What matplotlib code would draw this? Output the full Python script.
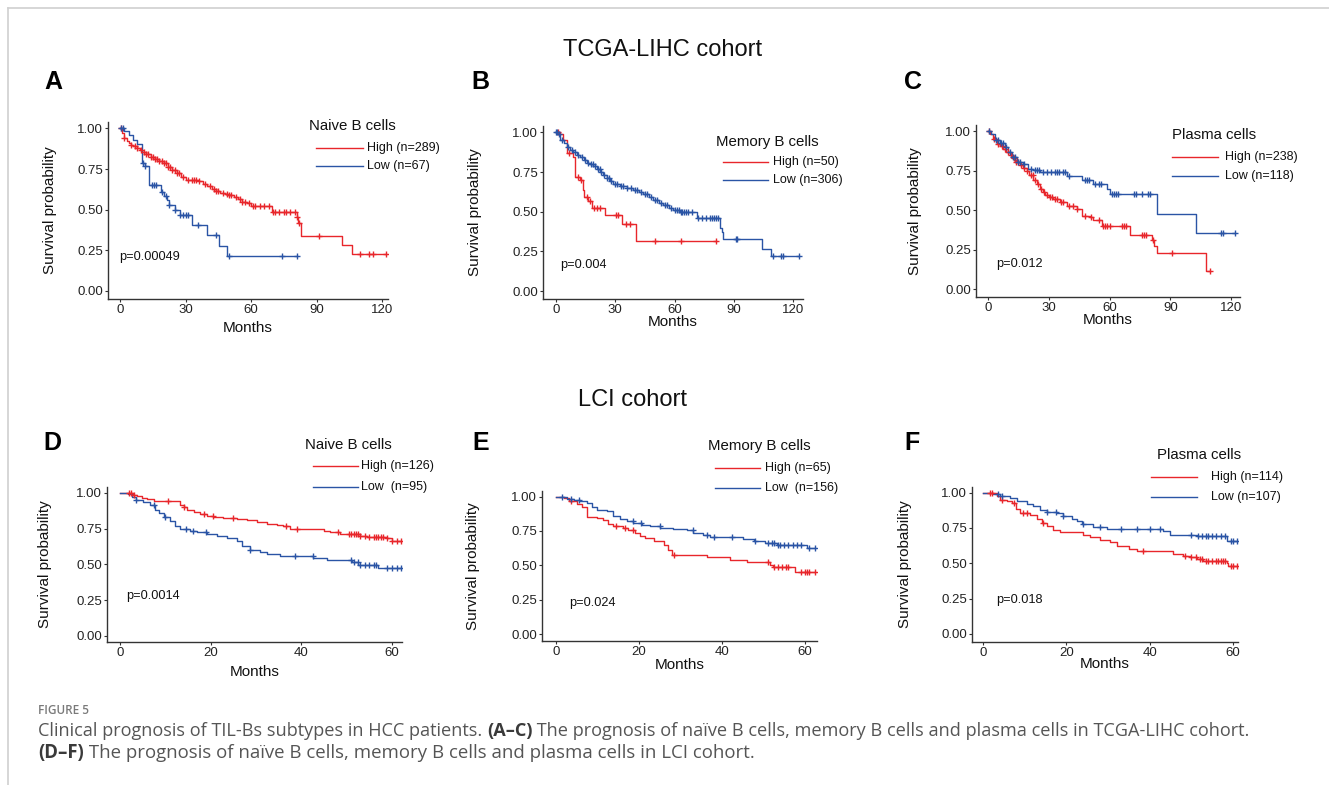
import numpy as np
import matplotlib
matplotlib.use("Agg")
import matplotlib.pyplot as plt
from matplotlib.lines import Line2D

W, H = 1329, 785

# ---- data: Kaplan-Meier steps (drop times in months, survival after drop) and censor times ----
A_HIGH_T = [1, 2, 3, 4, 5, 6, 8, 9, 10, 12, 14, 16, 18, 20, 22, 24, 26, 28, 30, 33, 36, 38, 40, 42,
            44, 46, 48, 50, 52, 54, 56, 58, 60, 69.5, 81, 81.7, 82.7, 101.5, 106]
A_HIGH_S = [0.97, 0.94, 0.92, 0.91, 0.90, 0.89, 0.88, 0.865, 0.855, 0.84, 0.825, 0.815, 0.80, 0.785,
            0.765, 0.745, 0.725, 0.70, 0.685, 0.68, 0.675, 0.66, 0.645, 0.63, 0.615, 0.60, 0.595, 0.59,
            0.58, 0.565, 0.55, 0.54, 0.52, 0.487, 0.455, 0.415, 0.34, 0.28, 0.23]
A_HIGH_C = [0.5, 2, 5, 7, 8, 9.5, 11, 12, 13, 14, 15, 16, 17, 18, 19, 20, 21, 22, 23, 24, 25, 26, 27,
            29, 31, 33, 34, 35, 36, 39, 41, 43, 44, 45, 47, 49, 50, 51, 53, 55, 56, 57, 59, 61, 62, 64,
            66, 68, 70, 71, 73, 75, 76, 78, 80, 81, 82, 91, 110, 114, 116, 122]

A_LOW_T = [2, 4, 6, 8, 10, 11.5, 13.5, 18.8, 20, 21.4, 22.5, 25, 27.5, 33, 40, 45.5, 49]
A_LOW_S = [0.985, 0.96, 0.93, 0.905, 0.79, 0.77, 0.65, 0.61, 0.585, 0.56, 0.53, 0.50, 0.466, 0.405,
           0.344, 0.276, 0.215]
A_LOW_C = [0.5, 1.2, 10.7, 11.5, 14.5, 15.5, 16.5, 19, 21, 22.5, 25, 27.5, 29, 30, 31, 35.5, 44, 50,
           74, 81]

B_HIGH_T = [2, 3.7, 5.4, 8.8, 9.6, 12.2, 13.5, 14.2, 16.4, 18, 25, 33.5, 40.5]
B_HIGH_S = [0.99, 0.95, 0.87, 0.845, 0.72, 0.70, 0.635, 0.59, 0.57, 0.526, 0.478, 0.42, 0.317]
B_HIGH_C = [1, 6.5, 11, 12.5, 15.5, 17, 19, 20.5, 22.5, 30.5, 31.5, 35.5, 37.5, 50, 63, 81]

B_LOW_T = [1, 2, 4, 5.4, 7, 8.8, 10.5, 12.2, 14, 15.5, 17, 18.9, 20.5, 22.3, 24, 25.7, 27.5, 29, 32.4,
           35.8, 39.2, 42, 44.2, 47, 49.3, 52, 54.3, 57, 59.4, 62.8, 71.2, 82.8, 83.9, 84.7, 104, 108.7]
B_LOW_S = [0.99, 0.95, 0.93, 0.908, 0.89, 0.876, 0.86, 0.845, 0.825, 0.81, 0.80, 0.79, 0.77, 0.75,
           0.73, 0.715, 0.695, 0.677, 0.66, 0.652, 0.635, 0.625, 0.614, 0.595, 0.572, 0.555, 0.54,
           0.525, 0.51, 0.50, 0.463, 0.40, 0.373, 0.325, 0.268, 0.222]
B_LOW_C = [0, 0.5, 1.5, 3, 6, 8, 9.5, 11, 13, 14.5, 16, 17.5, 18.5, 19.5, 21, 22, 23, 24.5, 26, 27, 28,
           30, 31, 33, 34, 36, 38, 40, 41, 43, 45, 46, 48, 50, 51, 53, 55, 56, 58, 60, 61, 62, 63, 64,
           65, 66, 67, 69, 72, 74, 76, 78, 79, 80, 81, 82, 91, 91.5, 110, 114, 115, 123]

C_HIGH_T = [1, 2.5, 4.3, 6, 7.6, 9, 10.9, 12, 13.3, 15.8, 17.5, 19.1, 20.5, 22.4, 24, 25.7, 27, 28.1,
            30, 32.3, 35.6, 38.8, 43.8, 46.3, 50.4, 52, 56.1, 70.3, 81, 82, 83.3, 107.5]
C_HIGH_S = [0.985, 0.95, 0.92, 0.905, 0.89, 0.87, 0.85, 0.83, 0.806, 0.785, 0.77, 0.75, 0.72, 0.69,
            0.665, 0.637, 0.615, 0.595, 0.585, 0.574, 0.553, 0.525, 0.51, 0.462, 0.454, 0.437, 0.40,
            0.346, 0.31, 0.272, 0.226, 0.116]
C_HIGH_C = [0.5, 3, 5, 7, 8.5, 10, 11.5, 13, 14, 15, 16.5, 18, 19.5, 21, 22, 23, 24.5, 26, 27.5, 29,
            30.5, 31.5, 33, 34, 36, 37, 40, 42, 44, 48, 51, 55, 57, 58, 59, 60, 66, 67, 68, 76, 77, 78,
            81.5, 91, 109.5]

C_LOW_T = [1.5, 3.5, 5.9, 8.4, 10, 11.7, 14.2, 17.4, 19.9, 22.4, 25.7, 39, 46.3, 52, 58.6, 60.2,
           83.3, 102.7]
C_LOW_S = [0.985, 0.947, 0.926, 0.9, 0.87, 0.837, 0.806, 0.79, 0.764, 0.757, 0.743, 0.715, 0.694,
           0.669, 0.637, 0.605, 0.479, 0.357]
C_LOW_C = [0.5, 4, 5, 6.5, 7.5, 9, 11, 12.5, 13.5, 15, 16, 18, 21, 23, 24, 25, 27, 29, 31, 33, 34,
           35, 37, 38, 40, 48, 49, 50, 53, 55, 56, 61, 62, 63, 64, 72, 73, 76, 79, 80, 115, 116, 122]

D_HIGH_T = [2.9, 3.7, 4.8, 5.9, 7.4, 9.6, 13.3, 14, 14.7, 16.2, 17.6, 19.1, 20.6, 22.8, 25.7, 27.9,
            30.1, 32.4, 34.6, 36, 37.5, 45, 46.3, 48.5, 52.9, 54.4, 58.8, 59.9]
D_HIGH_S = [0.986, 0.974, 0.963, 0.956, 0.944, 0.94, 0.916, 0.897, 0.88, 0.865, 0.853, 0.839, 0.83,
            0.823, 0.816, 0.807, 0.793, 0.78, 0.776, 0.765, 0.746, 0.734, 0.723, 0.711, 0.70, 0.69,
            0.683, 0.66]
D_HIGH_C = [2, 2.5, 3, 10.5, 14, 18.5, 20.5, 25, 36.5, 39, 48, 50.5, 51, 51.5, 52, 52.5, 53, 54, 55,
            56, 56.5, 57, 57.5, 58, 59, 60, 61, 62]

D_LOW_T = [1.8, 2.6, 3.5, 5.1, 6.6, 7.7, 8.5, 9.6, 11, 12.1, 13.2, 15.4, 16.9, 19.1, 21.3, 23.5, 25.7,
           26.8, 28.7, 30.9, 32.4, 35.3, 38.2, 42.6, 45.6, 51.1, 52.6, 57]
D_LOW_S = [0.99, 0.967, 0.951, 0.932, 0.916, 0.88, 0.858, 0.83, 0.80, 0.765, 0.748, 0.734, 0.723,
           0.713, 0.70, 0.683, 0.66, 0.625, 0.597, 0.583, 0.571, 0.56, 0.555, 0.543, 0.531, 0.513,
           0.497, 0.473]
D_LOW_C = [3.5, 7.5, 10, 14.5, 16, 19, 28.7, 38.5, 42.5, 51, 51.5, 52.5, 53, 54, 55, 56, 56.5, 59, 60,
           61, 62]

E_HIGH_T = [1.8, 3, 5, 6.2, 7.4, 9.8, 11.4, 12.6, 13.8, 16.2, 17.4, 19, 20.2, 21.4, 23.5, 26, 27,
            27.9, 36.3, 42, 46, 51.6, 52.4, 57.6]
E_HIGH_S = [0.99, 0.966, 0.949, 0.925, 0.85, 0.845, 0.827, 0.803, 0.783, 0.77, 0.754, 0.735, 0.715,
            0.698, 0.68, 0.65, 0.613, 0.577, 0.56, 0.54, 0.523, 0.504, 0.491, 0.455]
E_HIGH_C = [3.5, 14.5, 16.5, 18.5, 28.5, 51, 52.5, 53.5, 54.5, 55.5, 56, 59, 60, 60.5, 61, 62.5]

E_LOW_T = [2.6, 4.2, 5.8, 7.4, 8.6, 9.8, 12.2, 13.8, 15.4, 17, 18.6, 20.6, 22.6, 25.1, 28.3, 31.5,
           33.1, 35.5, 37.1, 45.1, 47.6, 50.4, 53.2, 60.4]
E_LOW_S = [0.985, 0.971, 0.966, 0.954, 0.925, 0.905, 0.893, 0.861, 0.837, 0.82, 0.808, 0.796, 0.783,
           0.771, 0.764, 0.754, 0.735, 0.72, 0.706, 0.691, 0.674, 0.662, 0.65, 0.625]
E_LOW_C = [1.5, 3.5, 5.5, 18.5, 20.5, 25, 33, 36.5, 38, 42.5, 48, 51, 52, 52.5, 53.5, 54, 55, 56, 57,
           58, 59, 61, 62.5]

F_HIGH_T = [3.3, 4.1, 5.7, 6.9, 7.9, 8.9, 11.3, 12.9, 14.1, 15.3, 16.9, 18.5, 24.1, 25.7, 28.1, 30.5,
            32.1, 35, 36.9, 45.7, 48.1, 49.7, 51.3, 52.9, 58.5, 58.9]
F_HIGH_S = [0.979, 0.95, 0.943, 0.927, 0.884, 0.856, 0.844, 0.813, 0.785, 0.761, 0.738, 0.719, 0.702,
            0.686, 0.667, 0.648, 0.619, 0.60, 0.584, 0.567, 0.553, 0.544, 0.53, 0.518, 0.501, 0.478]
F_HIGH_C = [1.7, 2.2, 4.5, 7.5, 9.5, 10.5, 14.5, 38.5, 48.5, 50, 51, 52, 52.5, 53.5, 54, 55, 56, 56.5,
            57, 57.5, 58, 59.5, 60, 60.9]

F_LOW_T = [2.5, 4.1, 6.5, 8.1, 10.5, 12.1, 13.7, 15.3, 17.7, 19.3, 21.3, 22.5, 23.7, 26.5, 29.7, 43.3,
           44.9, 51.3, 58.5]
F_LOW_S = [0.99, 0.979, 0.962, 0.943, 0.922, 0.903, 0.879, 0.86, 0.856, 0.837, 0.813, 0.797, 0.778,
           0.757, 0.742, 0.726, 0.702, 0.69, 0.66]
F_LOW_C = [3.5, 4.5, 15.3, 17.5, 19.3, 24, 28, 33, 37, 40, 42.5, 50, 51.5, 52.5, 53.5, 54, 55, 56,
           57, 58, 59.5, 60, 60.9]

GROUP_TITLES = ["Naive B cells", "Memory B cells", "Plasma cells"]
A_LABELS = ["High (n=289)", "Low (n=67)"]
B_LABELS = ["High (n=50)", "Low (n=306)"]
C_LABELS = ["High (n=238)", "Low (n=118)"]
D_LABELS = ["High (n=126)", "Low  (n=95)"]
E_LABELS = ["High (n=65)", "Low  (n=156)"]
F_LABELS = ["High (n=114)", "Low (n=107)"]
P_VALUES = ["p=0.00049", "p=0.004", "p=0.012", "p=0.0014", "p=0.024", "p=0.018"]
TCGA_XTICKS = [0, 30, 60, 90, 120]
LCI_XTICKS = [0, 20, 40, 60]
Y_TICKS = [0, 0.25, 0.5, 0.75, 1.0]

RED = "#E8262B"
BLUE = "#2A54A5"
FONT = "Liberation Sans"
plt.rcParams["font.family"] = [FONT, "DejaVu Sans"]


def fx(x):
    return x / W


def fy(y):
    return 1 - y / H


def km(ax, times, surv, cens, color):
    end = max(cens[-1], times[-1])
    xs = [0] + list(times) + [end]
    ys = [1.0] + list(surv) + [surv[-1]]
    ax.step(xs, ys, where="post", color=color, lw=1.0, zorder=3)
    t = np.asarray(times)
    s = np.concatenate([[1.0], surv])
    cy = s[np.searchsorted(t, np.asarray(cens), side="right")]
    ax.plot(cens, cy, ls="none", marker="+", ms=5, mew=1.0, color=color, zorder=4)


def panel(fig, rect, xlim, ylim, xticks, curves, xlab_y, ylab_x):
    x0, y0, x1, y1 = rect
    ax = fig.add_axes([fx(x0), fy(y1), (x1 - x0) / W, (y1 - y0) / H])
    for times, surv, cens, color in curves:
        km(ax, times, surv, cens, color)
    ax.set_xlim(*xlim)
    ax.set_ylim(*ylim)
    ax.set_xticks(xticks)
    ax.set_yticks(Y_TICKS)
    ax.set_yticklabels([f"{v:.2f}" for v in Y_TICKS])
    for side in ["top", "right"]:
        ax.spines[side].set_visible(False)
    for side in ["left", "bottom"]:
        ax.spines[side].set_color("#333333")
        ax.spines[side].set_linewidth(1.0)
    ax.tick_params(length=2.4, width=0.8, color="#333333", labelsize=9.5,
                   labelcolor="#222222", pad=1)
    ax.set_facecolor("none")
    hgt = y1 - y0
    wid = x1 - x0
    ax.set_xlabel("Months", fontsize=11, color="#111111", va="center", ha="center")
    ax.xaxis.set_label_coords(0.5, (y1 - xlab_y) / hgt)
    ax.set_ylabel("Survival probability", fontsize=11, color="#111111", va="center", ha="center")
    ax.yaxis.set_label_coords((ylab_x - x0) / wid, 0.5)
    return ax


def legend(fig, title, labels, title_xy, lx0, lx1, ys, tx):
    fig.text(fx(title_xy[0]), fy(title_xy[1]), title, fontsize=10.8, color="#111111",
             ha="left", va="center")
    for lab, yy, col in zip(labels, ys, [RED, BLUE]):
        fig.add_artist(Line2D([fx(lx0), fx(lx1)], [fy(yy), fy(yy)], color=col, lw=1.0))
        fig.text(fx(tx), fy(yy), lab, fontsize=9, color="#111111", ha="left", va="center")


def rich_line(fig, x_px, y_px, pieces, size, color):
    r = fig.canvas.get_renderer()
    x = x_px
    texts = []
    for s, bold in pieces:
        t = fig.text(fx(x), fy(y_px), s, fontsize=size, family="Open Sans",
                     fontweight="bold" if bold else "normal",
                     color="#3a3a3a" if bold else color, ha="left", va="center")
        texts.append(t)
        x = t.get_window_extent(r).x1
    return texts, x - x_px


def fitted_line(fig, x_px, y_px, pieces, target, color):
    texts, w = rich_line(fig, x_px, y_px, pieces, 11, color)
    for t in texts:
        t.remove()
    rich_line(fig, x_px, y_px, pieces, 11 * target / w, color)


fig = plt.figure(figsize=(W / 100, H / 100), dpi=100)

# frame
fig.add_artist(Line2D([fx(8), 1], [fy(8), fy(8)], color="#d0d0d0", lw=1.2))
fig.add_artist(Line2D([fx(8), fx(8)], [fy(8), 0], color="#d0d0d0", lw=1.2))

fig.text(fx(663), fy(50), "TCGA-LIHC cohort", fontsize=17, ha="center", va="center", color="#111111")
fig.text(fx(632), fy(400), "LCI cohort", fontsize=17, ha="center", va="center", color="#111111")

for letter, (lx, ly) in zip("ABCDEF", [(53, 82), (480, 82), (913, 82), (52, 443), (481, 443), (912, 443)]):
    fig.text(fx(lx), fy(ly), letter, fontsize=18, fontweight="bold", ha="center", va="center",
             color="black")

panel(fig, (108, 122, 388, 299), (-5.5, 122.7), (-0.05, 1.04), TCGA_XTICKS,
      [(A_HIGH_T, A_HIGH_S, A_HIGH_C, RED), (A_LOW_T, A_LOW_S, A_LOW_C, BLUE)], 328, 50)
panel(fig, (543, 126, 803, 299), (-6.6, 125.0), (-0.05, 1.04), TCGA_XTICKS,
      [(B_HIGH_T, B_HIGH_S, B_HIGH_C, RED), (B_LOW_T, B_LOW_S, B_LOW_C, BLUE)], 322, 475)
panel(fig, (976, 125, 1240, 297), (-5.9, 124.4), (-0.05, 1.04), TCGA_XTICKS,
      [(C_HIGH_T, C_HIGH_S, C_HIGH_C, RED), (C_LOW_T, C_LOW_S, C_LOW_C, BLUE)], 320, 915)
panel(fig, (107, 487, 402, 642), (-2.9, 62.2), (-0.042, 1.04), LCI_XTICKS,
      [(D_HIGH_T, D_HIGH_S, D_HIGH_C, RED), (D_LOW_T, D_LOW_S, D_LOW_C, BLUE)], 672, 45)
panel(fig, (542, 491, 817, 641), (-3.4, 62.9), (-0.05, 1.04), LCI_XTICKS,
      [(E_HIGH_T, E_HIGH_S, E_HIGH_C, RED), (E_LOW_T, E_LOW_S, E_LOW_C, BLUE)], 665, 473)
panel(fig, (972, 487, 1238, 642), (-2.64, 61.2), (-0.057, 1.04), LCI_XTICKS,
      [(F_HIGH_T, F_HIGH_S, F_HIGH_C, RED), (F_LOW_T, F_LOW_S, F_LOW_C, BLUE)], 664, 905)

legend(fig, GROUP_TITLES[0], A_LABELS, (309, 126), 316, 363, (148, 166), 367)
legend(fig, GROUP_TITLES[1], B_LABELS, (716, 142), 723, 768, (162, 180), 773)
legend(fig, GROUP_TITLES[2], C_LABELS, (1172, 135), 1172, 1218, (157, 176), 1225)
legend(fig, GROUP_TITLES[0], D_LABELS, (305, 445), 313, 358, (466, 487), 361)
legend(fig, GROUP_TITLES[1], E_LABELS, (708, 446), 715, 760, (468, 488), 765)
legend(fig, GROUP_TITLES[2], F_LABELS, (1157, 455), 1151, 1197, (477, 497), 1211)

for p, (px, py) in zip(P_VALUES, [(119, 257), (560, 265), (996, 264), (126, 596), (569, 603), (996, 600)]):
    fig.text(fx(px), fy(py), p, fontsize=9.2, color="#111111", ha="left", va="center")

# caption
fig.text(fx(38), fy(711), "FIGURE 5", fontsize=8.5, family="Open Sans", fontweight="semibold",
         color="#7a7a7a", ha="left", va="center")
fitted_line(fig, 38, 731, [
    ("Clinical prognosis of TIL-Bs subtypes in HCC patients. ", False),
    ("(A\u2013C)", True),
    (" The prognosis of na\u00efve B cells, memory B cells and plasma cells in TCGA-LIHC cohort.", False),
], 1215, "#555555")
fitted_line(fig, 38, 753, [
    ("(D\u2013F)", True),
    (" The prognosis of na\u00efve B cells, memory B cells and plasma cells in LCI cohort.", False),
], 718, "#555555")

fig.savefig("out.png", dpi=100)
